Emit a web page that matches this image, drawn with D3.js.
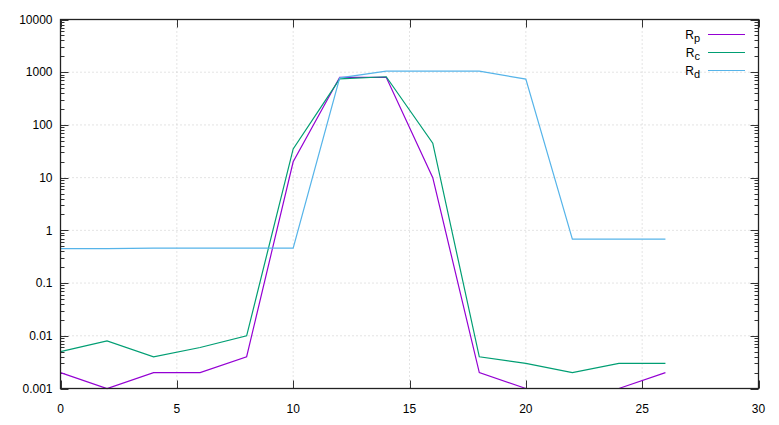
<!DOCTYPE html>
<html><head><meta charset="utf-8">
<script src="https://cdn.jsdelivr.net/npm/d3@7"></script>
<style>body{margin:0;background:#fff}svg{display:block}text{font-family:"Liberation Sans",Arial,sans-serif;font-size:12px;fill:#000}</style>
</head><body>
<svg id="c" width="779" height="425"></svg>
<script>
const xs = [0,2,4,6,8,10,12,14,16,18,20,22,24,26];
const Rp = [0.002,0.001,0.002,0.002,0.004,20,800,800,10,0.002,0.001,0.001,0.001,0.002];
const Rc = [0.005,0.008,0.004,0.006,0.01,35,750,820,45,0.004,0.003,0.002,0.003,0.003];
const Rd = [0.45,0.45,0.46,0.46,0.46,0.46,780,1050,1050,1050,740,0.68,0.68,0.68];
const seriesNames = ["p","c","d"];
const seriesColors = ["#9400d3","#009e73","#56b4e9"];
const xTicks = [0,5,10,15,20,25,30];
const yTicks = [0.001,0.01,0.1,1,10,100,1000,10000];
const yTickLabels = ["0.001","0.01","0.1","1","10","100","1000","10000"];

const svg = d3.select("#c");
const L=60.5,R=758.5,T=19.5,B=388.5;
const x = d3.scaleLinear().domain([0,30]).range([L,R]);
const y = d3.scaleLog().domain([0.001,10000]).range([B,T]);

// grid
const g = svg.append("g");
xTicks.filter(t=>t>0&&t<30).forEach(t=>{
  g.append("line").attr("x1",x(t)).attr("x2",x(t)).attr("y1",T).attr("y2",B)
   .attr("stroke","#c8c8c8").attr("stroke-dasharray","1,3");
});
yTicks.filter(t=>t>0.001&&t<10000).forEach(t=>{
  g.append("line").attr("x1",L).attr("x2",R).attr("y1",y(t)).attr("y2",y(t))
   .attr("stroke","#c8c8c8").attr("stroke-dasharray","1,3");
});

// minor ticks
const minor=[];
for(let e=-3;e<4;e++) for(let m=2;m<10;m++) minor.push(m*Math.pow(10,e));
const tk = svg.append("g").attr("stroke","#333");
minor.forEach(v=>{
  tk.append("line").attr("x1",L).attr("x2",L+4).attr("y1",Math.round(y(v))+0.5).attr("y2",Math.round(y(v))+0.5);
  tk.append("line").attr("x1",R).attr("x2",R-4).attr("y1",Math.round(y(v))+0.5).attr("y2",Math.round(y(v))+0.5);
});
yTicks.forEach(v=>{
  tk.append("line").attr("x1",L).attr("x2",L+8).attr("y1",Math.round(y(v))+0.5).attr("y2",Math.round(y(v))+0.5);
  tk.append("line").attr("x1",R).attr("x2",R-8).attr("y1",Math.round(y(v))+0.5).attr("y2",Math.round(y(v))+0.5);
});
xTicks.forEach(v=>{
  tk.append("line").attr("x1",Math.round(x(v))+0.5).attr("x2",Math.round(x(v))+0.5).attr("y1",B).attr("y2",B-8);
  tk.append("line").attr("x1",Math.round(x(v))+0.5).attr("x2",Math.round(x(v))+0.5).attr("y1",T).attr("y2",T+8);
});

// labels
yTicks.forEach((v,i)=>{
  svg.append("text").attr("x",L-8).attr("y",y(v)).attr("dy","0.35em").attr("text-anchor","end").text(yTickLabels[i]);
});
xTicks.forEach(v=>{
  svg.append("text").attr("x",x(v)).attr("y",B+20).attr("dy","0.35em").attr("text-anchor","middle").text(v);
});

// lines
const line = d3.line().x((d,i)=>x(xs[i])).y(d=>y(d));
[Rp,Rc,Rd].forEach((s,i)=>{
  svg.append("path").datum(s).attr("d",line).attr("fill","none").attr("stroke",seriesColors[i]).attr("stroke-width",1.2);
});

// legend
seriesNames.forEach((n,i)=>{
  const yy = 34.5 + i*18;
  const t = svg.append("text").attr("x",700).attr("y",yy).attr("dy","0.35em").attr("text-anchor","end");
  t.append("tspan").text("R");
  t.append("tspan").attr("dy","0.3em").attr("font-size","11px").text(n);
  svg.append("line").attr("x1",708).attr("x2",745).attr("y1",yy).attr("y2",yy).attr("stroke",seriesColors[i]).attr("stroke-width",1.2);
});

// border
svg.append("rect").attr("x",L).attr("y",T).attr("width",R-L).attr("height",B-T).attr("fill","none").attr("stroke","#222").attr("stroke-width",1.3);
</script>
</body></html>
